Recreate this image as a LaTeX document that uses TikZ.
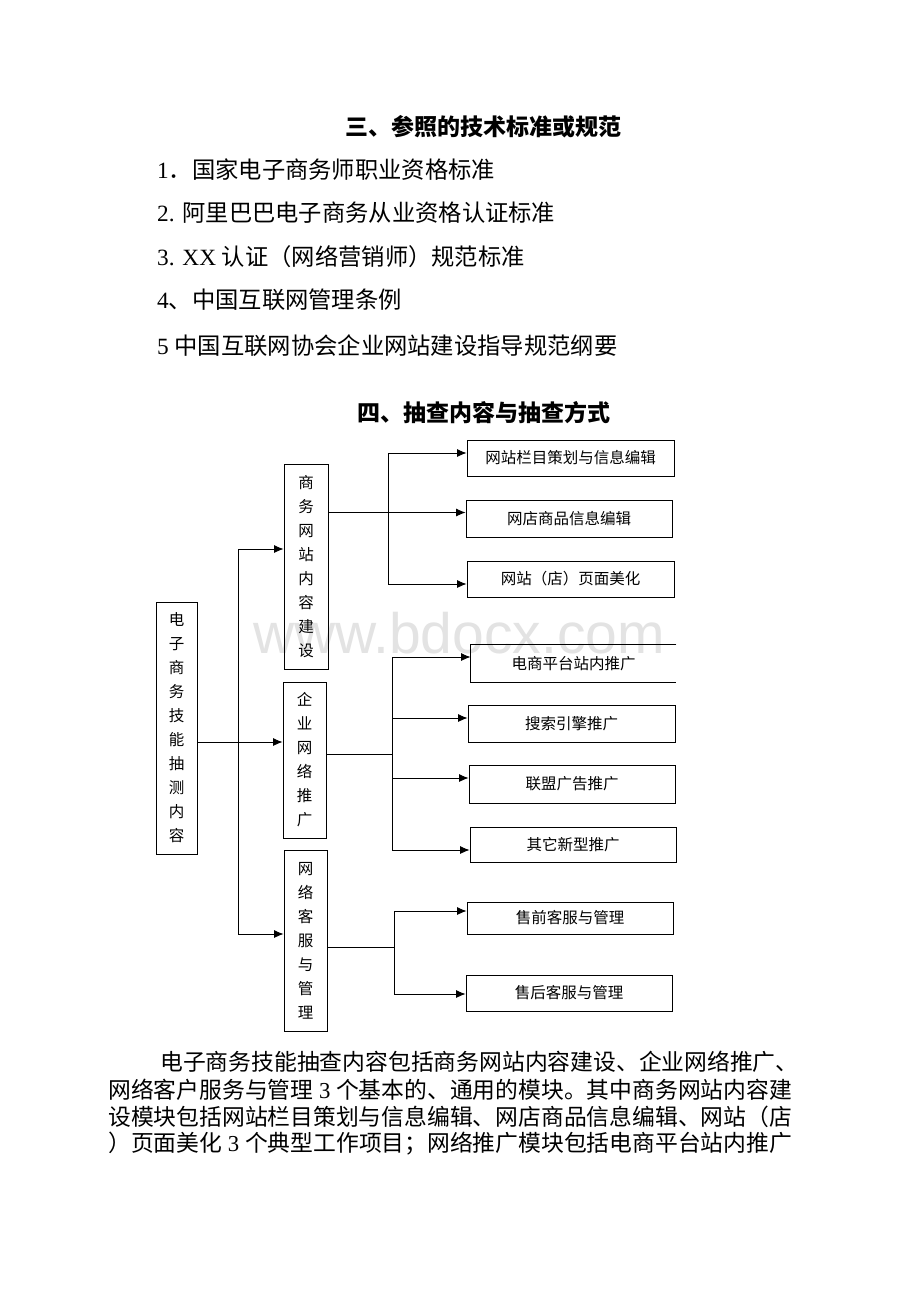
\documentclass[tikz,border=0pt]{standalone}
\usepackage{fontspec}
\setmainfont{Liberation Serif}
\newfontfamily\cjk{Noto Sans CJK SC}
\newfontfamily\wmfont{Liberation Sans}
\usetikzlibrary{arrows.meta}
\tikzset{
  box/.style={draw, line width=0.8pt, inner sep=0pt, font=\cjk\fontsize{15.5}{24}\selectfont},
  vbox/.style={box, align=center},
  arr/.style={line width=0.9pt, -{Latex[length=9.5pt,width=8pt]}},
  ln/.style={line width=0.9pt},
  listline/.style={anchor=west, inner sep=0pt, font=\fontsize{23.3}{28}\selectfont},
  paraline/.style={anchor=west, inner sep=0pt, font=\fontsize{22.8}{27}\selectfont},
  heading/.style={inner sep=0pt, font=\cjk\bfseries\fontsize{23}{28}\selectfont},
}
\begin{document}
\begin{tikzpicture}[x=1pt, y=-1pt]
\useasboundingbox[fill=white] (0,0) rectangle (920,1302);

% watermark
\node[inner sep=0pt, text=black!11, font=\wmfont\fontsize{57}{60}\selectfont] (wm) at (459,633) {www.bdocx.com};

% headings and list
\node[heading] (t1) at (483.5,127) {三、参照的技术标准或规范};
\node[listline] (l1) at (157,170) {1{\cjk ．国家电子商务师职业资格标准}};
\node[listline] (l2) at (157,213) {2. {\cjk 阿里巴巴电子商务从业资格认证标准}};
\node[listline] (l3) at (157,257) {3. XX {\cjk 认证（网络营销师）规范标准}};
\node[listline] (l4) at (157,300) {4{\cjk 、中国互联网管理条例}};
\node[listline] (l5) at (157,346) {5 {\cjk 中国互联网协会企业网站建设指导规范纲要}};
\node[heading] (t2) at (483.5,413) {四、抽查内容与抽查方式};

% main boxes
\node[vbox, minimum width=41pt, minimum height=252pt] (L) at (176.5,728) {电\\子\\商\\务\\技\\能\\抽\\测\\内\\容};
\node[vbox, minimum width=44pt, minimum height=205pt] (A) at (306,566.5) {商\\务\\网\\站\\内\\容\\建\\设};
\node[vbox, minimum width=43pt, minimum height=156pt] (B) at (304.5,760) {企\\业\\网\\络\\推\\广};
\node[vbox, minimum width=43pt, minimum height=181pt] (C) at (305.5,940.5) {网\\络\\客\\服\\与\\管\\理};

% leaf boxes
\node[box, minimum width=207pt, minimum height=36pt] (A1) at (570.5,458) {网站栏目策划与信息编辑};
\node[box, minimum width=206pt, minimum height=37pt] (A2) at (569,518.5) {网店商品信息编辑};
\node[box, minimum width=207pt, minimum height=36pt] (A3) at (570.5,579) {网站（店）页面美化};
\node[box, draw=none, minimum width=205pt, minimum height=37pt] (B1) at (573.5,663.5) {电商平台站内推广};
\draw[line width=0.8pt] (B1.north east) -- (B1.north west) -- (B1.south west) -- (B1.south east);
\node[box, minimum width=207pt, minimum height=37pt] (B2) at (571.5,723.5) {搜索引擎推广};
\node[box, minimum width=206pt, minimum height=38pt] (B3) at (572,784) {联盟广告推广};
\node[box, minimum width=206pt, minimum height=35pt] (B4) at (573,844.5) {其它新型推广};
\node[box, minimum width=206pt, minimum height=32pt] (C1) at (570,918) {售前客服与管理};
\node[box, minimum width=206pt, minimum height=36pt] (C2) at (569,993) {售后客服与管理};

% trunk
\coordinate (tTop) at (238,549);
\coordinate (tMid) at (238,742);
\coordinate (tBot) at (238,934);
\draw[ln] (tTop) -- (tBot);
\draw[arr] (tTop) -- (tTop -| A.west);
\draw[arr] (L.east |- tMid) -- (tMid -| B.west);
\draw[arr] (tBot) -- (tBot -| C.west);

% group A
\coordinate (ja1) at (388,453);
\coordinate (ja2) at (388,512.5);
\coordinate (ja3) at (388,584);
\draw[ln] (ja1) -- (ja3);
\draw[arr] (A.east |- ja2) -- (ja2 -| A2.west);
\draw[arr] (ja1) -- (ja1 -| A1.west);
\draw[arr] (ja3) -- (ja3 -| A3.west);

% group B
\coordinate (jb1) at (392,657);
\coordinate (jbm) at (392,754);
\coordinate (jb4) at (392,850);
\coordinate (jb2) at (393,718);
\coordinate (jb3) at (393,778);
\draw[ln] (jb1) -- (jb4);
\draw[ln] (B.east |- jbm) -- (jbm);
\draw[arr] (jb1) -- (jb1 -| B1.west);
\draw[arr] (jb2) -- (jb2 -| B2.west);
\draw[arr] (jb3) -- (jb3 -| B3.west);
\draw[arr] (jb4) -- (jb4 -| B4.west);

% group C
\coordinate (jc1) at (394,911);
\coordinate (jcm) at (394,947);
\coordinate (jc2) at (394,994);
\draw[ln] (jc1) -- (jc2);
\draw[ln] (C.east |- jcm) -- (jcm);
\draw[arr] (jc1) -- (jc1 -| C1.west);
\draw[arr] (jc2) -- (jc2 -| C2.west);

% paragraph
\node[paraline] (p1) at (160,1062) {\cjk 电子商务技能抽查内容包括商务网站内容建设、企业网络推广、};
\node[paraline] (p2) at (108,1090) {{\cjk 网络客户服务与管理} 3 {\cjk 个基本的、通用的模块。其中商务网站内容建}};
\node[paraline] (p3) at (108,1117) {\cjk 设模块包括网站栏目策划与信息编辑、网店商品信息编辑、网站（店};
\node[paraline] (p4) at (108,1144) {{\cjk ）页面美化} 3 {\cjk 个典型工作项目；网络推广模块包括电商平台站内推广}};
\end{tikzpicture}
\end{document}
